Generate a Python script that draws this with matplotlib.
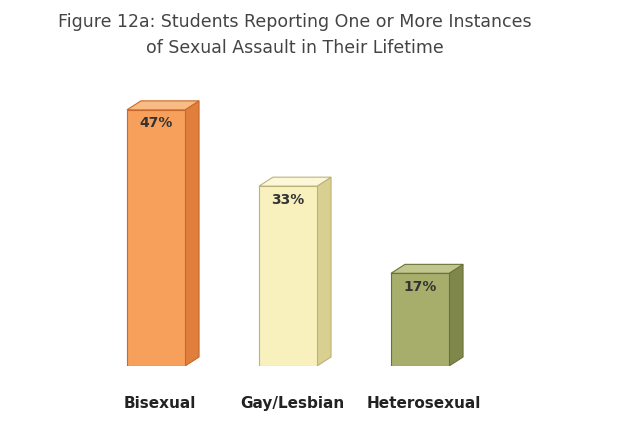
import matplotlib.pyplot as plt
from matplotlib.patches import Polygon

categories = ["Bisexual", "Gay/Lesbian", "Heterosexual"]
values = [47, 33, 17]
front_colors = ["#F6A05C", "#F8F1BE", "#A7AE6C"]
side_colors = ["#E07E3C", "#D8CF90", "#7F884A"]
top_colors = ["#F9BB84", "#FCF7D8", "#C0C68E"]
edge_colors = ["#C8682A", "#BDB37A", "#6A7238"]

fig = plt.figure(figsize=(6.18, 4.33), dpi=100)
ax = fig.add_axes([0, (433 - 366) / 433, 1, (366 - 80) / 433])
ax.set_xlim(-156 / 132, (618 - 156) / 132)
ax.set_ylim(0, (366 - 80) / 5.45)
ax.axis("off")

w = 0.44
dx = 14 / 132
dy = 1.65
for i, (cat, v) in enumerate(zip(categories, values)):
    ax.bar(i, v, width=w, color=front_colors[i], edgecolor=edge_colors[i], linewidth=0.8, zorder=3)
    l, r = i - w / 2, i + w / 2
    ax.add_patch(Polygon([(r, 0), (r + dx, dy), (r + dx, v + dy), (r, v)],
                         closed=True, facecolor=side_colors[i], edgecolor=edge_colors[i], linewidth=0.8, zorder=2))
    ax.add_patch(Polygon([(l, v), (r, v), (r + dx, v + dy), (l + dx, v + dy)],
                         closed=True, facecolor=top_colors[i], edgecolor=edge_colors[i], linewidth=0.8, zorder=2))
    ax.text(i, v - 1.2, f"{v}%", ha="center", va="top", fontsize=10, fontweight="bold", color="#333333", zorder=4)
    ax.text(i + 0.03, -6.8, cat, ha="center", va="center", fontsize=11, fontweight="bold", color="#222222", clip_on=False)

fig.text(0.477, 1 - 22 / 433, "Figure 12a: Students Reporting One or More Instances",
         ha="center", va="center", fontsize=12.5, color="#444444")
fig.text(0.477, 1 - 48 / 433, "of Sexual Assault in Their Lifetime",
         ha="center", va="center", fontsize=12.5, color="#444444")

fig.savefig("out.png", dpi=100, facecolor="white")
